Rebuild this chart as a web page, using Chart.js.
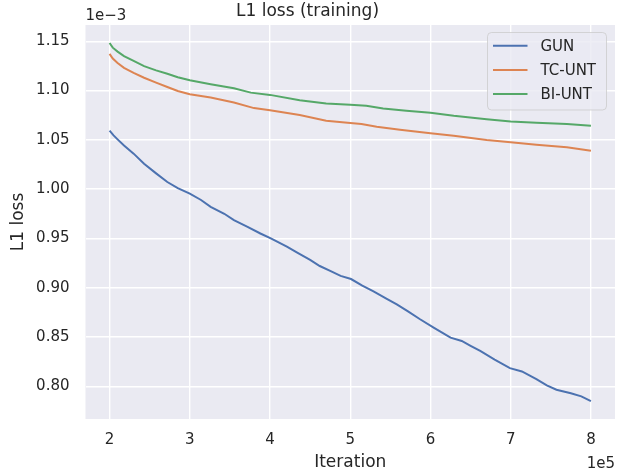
<!DOCTYPE html>
<html><head><meta charset="utf-8">
<script src="https://cdn.jsdelivr.net/npm/chart.js@4"></script>
<style>html,body{margin:0;padding:0;background:#fff}#wrap{width:617px;height:473px}</style>
</head><body><div id="wrap"><canvas id="c" width="617" height="473"></canvas></div>
<script>
// Iteration in units of 1e5, loss in units of 1e-3
const iterGUN = [2.0,2.05,2.1,2.18,2.3,2.43,2.58,2.72,2.85,3.0,3.14,3.26,3.43,3.55,3.72,3.88,4.01,4.21,4.35,4.5,4.62,4.75,4.88,5.01,5.15,5.29,5.45,5.58,5.72,5.87,6.05,6.25,6.39,6.5,6.62,6.8,6.99,7.14,7.32,7.45,7.57,7.75,7.88,8.0];
const lossGUN = [1.0593,1.0545,1.0505,1.0442,1.036,1.0257,1.016,1.0072,1.001,0.9955,0.989,0.982,0.975,0.9686,0.9618,0.955,0.950,0.9416,0.935,0.9282,0.922,0.917,0.912,0.9088,0.902,0.8963,0.889,0.883,0.876,0.868,0.859,0.8493,0.846,0.841,0.8358,0.827,0.8184,0.815,0.8073,0.801,0.7965,0.793,0.7898,0.785];
const iterTC = [2.0,2.04,2.1,2.18,2.3,2.43,2.58,2.72,2.85,3.0,3.26,3.55,3.8,4.0,4.37,4.7,5.0,5.14,5.33,5.62,6.0,6.29,6.7,7.0,7.32,7.7,8.0];
const lossTC = [1.1372,1.1325,1.128,1.123,1.118,1.113,1.108,1.1036,1.0995,1.0963,1.0929,1.0878,1.0822,1.0801,1.0751,1.0694,1.067,1.066,1.0633,1.0603,1.0566,1.0542,1.0499,1.0475,1.0449,1.0424,1.039];
const iterBI = [2.0,2.04,2.1,2.18,2.3,2.43,2.58,2.72,2.85,3.0,3.26,3.55,3.76,4.0,4.37,4.7,5.0,5.2,5.41,5.7,6.0,6.29,6.7,7.0,7.32,7.7,8.0];
const lossBI = [1.1483,1.1435,1.1395,1.1349,1.130,1.1248,1.1205,1.117,1.1135,1.1104,1.1064,1.1023,1.0979,1.0956,1.0902,1.0868,1.0855,1.0845,1.0818,1.0795,1.0774,1.0744,1.071,1.0687,1.0673,1.066,1.0643];
const seriesNames = ['GUN','TC-UNT','BI-UNT'];
const xTicks = [2,3,4,5,6,7,8];
const yTicks = [0.80,0.85,0.90,0.95,1.00,1.05,1.10,1.15];

const colors = ['#4C72B0','#DD8452','#55A868'];
const toPts = (xs, ys) => xs.map((x, i) => ({x: x, y: ys[i]}));
const FONT = "'DejaVu Sans', sans-serif";
const TXT = '#262626';

const bgPlugin = {
  id: 'bg',
  beforeDraw(chart) {
    const {ctx, chartArea: a} = chart;
    ctx.save();
    ctx.fillStyle = '#ffffff';
    ctx.fillRect(0, 0, chart.width, chart.height);
    ctx.fillStyle = '#EAEAF2';
    ctx.fillRect(a.left, a.top, a.right - a.left, a.bottom - a.top);
    ctx.restore();
  }
};

function roundRect(ctx, x, y, w, h, r) {
  ctx.beginPath();
  ctx.moveTo(x + r, y);
  ctx.lineTo(x + w - r, y);
  ctx.quadraticCurveTo(x + w, y, x + w, y + r);
  ctx.lineTo(x + w, y + h - r);
  ctx.quadraticCurveTo(x + w, y + h, x + w - r, y + h);
  ctx.lineTo(x + r, y + h);
  ctx.quadraticCurveTo(x, y + h, x, y + h - r);
  ctx.lineTo(x, y + r);
  ctx.quadraticCurveTo(x, y, x + r, y);
  ctx.closePath();
}

const overlayPlugin = {
  id: 'overlay',
  afterDraw(chart) {
    const {ctx, chartArea: a} = chart;
    ctx.save();
    // legend
    const lx = 487.5, ly = 32.5, lw = 119, lh = 77.5;
    roundRect(ctx, lx, ly, lw, lh, 4);
    ctx.fillStyle = 'rgba(234,234,242,0.8)';
    ctx.fill();
    ctx.strokeStyle = 'rgba(204,204,204,0.8)';
    ctx.lineWidth = 1;
    ctx.stroke();
    ctx.font = '15px ' + FONT;
    ctx.textBaseline = 'middle';
    ctx.textAlign = 'left';
    chart.data.datasets.forEach((ds, i) => {
      const y = 45.7 + i * 24.2;
      ctx.strokeStyle = ds.borderColor;
      ctx.lineWidth = 2;
      ctx.beginPath();
      ctx.moveTo(493, y);
      ctx.lineTo(527.5, y);
      ctx.stroke();
      ctx.fillStyle = TXT;
      ctx.fillText(ds.label, 540.5, y + 1);
    });
    // offset texts
    ctx.font = '15px ' + FONT;
    ctx.fillStyle = TXT;
    ctx.textBaseline = 'alphabetic';
    ctx.textAlign = 'left';
    ctx.fillText('1e\u22123', a.left, 20);
    ctx.textAlign = 'right';
    ctx.fillText('1e5', a.right, 468);
    ctx.restore();
  }
};

new Chart(document.getElementById('c'), {
  type: 'line',
  data: {
    datasets: [
      {label: seriesNames[0], data: toPts(iterGUN, lossGUN), borderColor: colors[0], backgroundColor: colors[0]},
      {label: seriesNames[1], data: toPts(iterTC, lossTC), borderColor: colors[1], backgroundColor: colors[1]},
      {label: seriesNames[2], data: toPts(iterBI, lossBI), borderColor: colors[2], backgroundColor: colors[2]}
    ].map(d => Object.assign(d, {borderWidth: 2, pointRadius: 0, tension: 0, fill: false}))
  },
  options: {
    responsive: false,
    animation: false,
    devicePixelRatio: 1,
    layout: {padding: {left: 0, right: 2, top: 0, bottom: 0}},
    plugins: {
      legend: {display: false},
      tooltip: {enabled: false},
      title: {
        display: true,
        text: 'L1 loss (training)',
        color: TXT,
        font: {family: FONT, size: 17, weight: 'normal'},
        padding: {top: 1, bottom: 3.6}
      }
    },
    scales: {
      x: {
        type: 'linear',
        min: 1.7, max: 8.3,
        afterBuildTicks: s => { s.ticks = xTicks.map(v => ({value: v})); },
        afterFit: s => { s.height = 54; },
        grid: {color: '#ffffff', lineWidth: 1.4, drawTicks: false},
        border: {display: false},
        ticks: {color: TXT, font: {family: FONT, size: 15}, padding: 12, callback: v => String(v), maxRotation: 0},
        title: {display: true, text: 'Iteration', color: TXT, font: {family: FONT, size: 17}, padding: {top: 0, bottom: 0}}
      },
      y: {
        type: 'linear',
        min: 0.7668, max: 1.1665,
        afterBuildTicks: s => { s.ticks = yTicks.map(v => ({value: v})); },
        afterFit: s => { s.width = 85.5; },
        grid: {color: '#ffffff', lineWidth: 1.4, drawTicks: false},
        border: {display: false},
        ticks: {color: TXT, font: {family: FONT, size: 15}, padding: 16, callback: v => v.toFixed(2)},
        title: {display: true, text: 'L1 loss', color: TXT, font: {family: FONT, size: 17}, padding: {top: 8, bottom: 0}}
      }
    }
  },
  plugins: [bgPlugin, overlayPlugin]
});
</script>
</body></html>
